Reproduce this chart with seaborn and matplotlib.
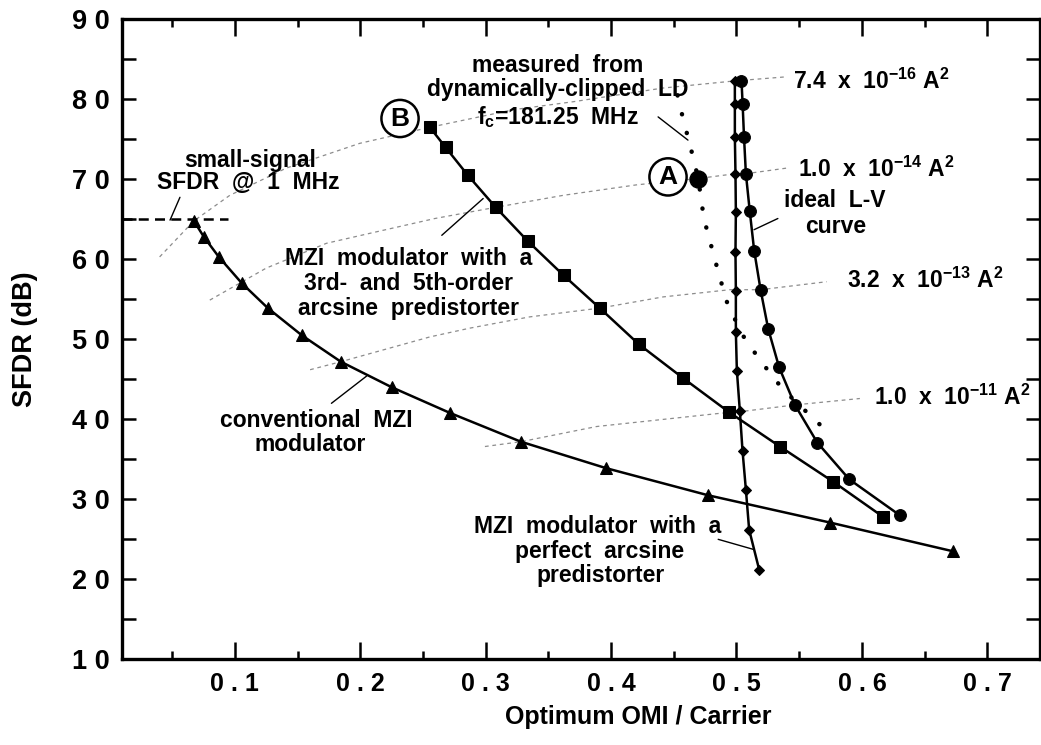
import matplotlib
matplotlib.use("Agg")
import matplotlib.pyplot as plt
import seaborn as sns

# ---------------- data ----------------
conv_x = [0.0673, 0.0753, 0.0872, 0.1056, 0.1263, 0.1534, 0.1845, 0.2252,
          0.2715, 0.3281, 0.3959, 0.4775, 0.5745, 0.6728]
conv_y = [64.8, 62.8, 60.3, 57.0, 53.9, 50.5, 47.2, 44.0, 40.8, 37.2, 33.9,
          30.5, 27.1, 23.5]

p35_x = [0.2555, 0.268, 0.2858, 0.308, 0.3334, 0.3621, 0.391, 0.422, 0.457,
         0.494, 0.5346, 0.5771, 0.617]
p35_y = [76.5, 74.0, 70.5, 66.5, 62.3, 58.0, 53.9, 49.4, 45.2, 40.9, 36.6,
         32.2, 27.8]

perf_x = [0.4987, 0.4987, 0.4987, 0.4992, 0.4995, 0.4992, 0.4995, 0.4995,
          0.5003, 0.5027, 0.5048, 0.5075, 0.5101, 0.5181]
perf_y = [82.3, 79.4, 75.3, 70.7, 65.9, 60.9, 56.0, 50.9, 46.1, 41.0, 36.1,
          31.2, 26.2, 21.2]

ideal_x = [0.504, 0.5049, 0.506, 0.5075, 0.5106, 0.5141, 0.5192, 0.5253,
           0.534, 0.5466, 0.5644, 0.5899, 0.6303]
ideal_y = [82.3, 79.4, 75.3, 70.7, 66.0, 61.1, 56.2, 51.3, 46.5, 41.8, 37.1,
           32.5, 28.0]

meas_x = [0.453, 0.4575, 0.4634, 0.4695, 0.474, 0.480, 0.4862, 0.4929, 0.505,
          0.5187, 0.537, 0.560, 0.5705]
meas_y = [80.5, 77.5, 74.0, 70.1, 65.1, 61.6, 58.0, 54.4, 50.5, 47.4, 43.75,
          40.3, 38.75]
pointA_x = [0.4695]
pointA_y = [70.1]

# constant-noise curves
n1_x = [0.040, 0.0673, 0.096, 0.141, 0.1997, 0.2555, 0.322, 0.37, 0.441, 0.4987, 0.539]
n1_y = [60.3, 64.8, 68.0, 71.4, 74.5, 76.5, 78.7, 79.7, 81.4, 82.3, 82.8]
n2_x = [0.080, 0.125, 0.173, 0.2077, 0.2595, 0.308, 0.362, 0.420, 0.4695, 0.4992, 0.5075, 0.54]
n2_y = [54.9, 58.9, 62.0, 63.25, 65.1, 66.5, 68.0, 69.3, 70.1, 70.7, 70.7, 71.4]
n3_x = [0.160, 0.1845, 0.2555, 0.2875, 0.335, 0.391, 0.4415, 0.4947, 0.5192, 0.572]
n3_y = [46.2, 47.2, 50.3, 51.4, 52.8, 53.9, 55.3, 56.2, 56.2, 57.2]
n4_x = [0.2994, 0.3281, 0.3885, 0.4868, 0.5027, 0.5466, 0.5984]
n4_y = [36.6, 37.2, 39.1, 40.75, 40.95, 41.8, 42.6]
noise_labels = [r"7.4  x  10$^{\mathbf{-16}}$ A$^{\mathbf{2}}$",
                r"1.0  x  10$^{\mathbf{-14}}$ A$^{\mathbf{2}}$",
                r"3.2  x  10$^{\mathbf{-13}}$ A$^{\mathbf{2}}$",
                r"1.0  x  10$^{\mathbf{-11}}$ A$^{\mathbf{2}}$"]
noise_label_x = [0.545, 0.549, 0.588, 0.610]
noise_label_y = [82.3, 71.2, 57.4, 42.7]

small_signal_level = 65.0
small_signal_x = [0.01, 0.0946]

x_major = [0.1, 0.2, 0.3, 0.4, 0.5, 0.6, 0.7]
x_major_labels = ["0 . 1", "0 . 2", "0 . 3", "0 . 4", "0 . 5", "0 . 6", "0 . 7"]
x_minor = [0.05, 0.15, 0.25, 0.35, 0.45, 0.55, 0.65]
y_major = [10, 20, 30, 40, 50, 60, 70, 80, 90]
y_major_labels = ["1 0", "2 0", "3 0", "4 0", "5 0", "6 0", "7 0", "8 0", "9 0"]
y_minor = [15, 25, 35, 45, 55, 65, 75, 85]

# ---------------- style ----------------
sns.set_theme(style="ticks")
plt.rcParams["font.family"] = ["Liberation Sans", "DejaVu Sans"]
plt.rcParams["font.weight"] = "bold"
plt.rcParams["text.color"] = "black"
plt.rcParams["axes.labelcolor"] = "black"
plt.rcParams["xtick.color"] = "black"
plt.rcParams["ytick.color"] = "black"
plt.rcParams["axes.edgecolor"] = "black"
plt.rcParams["mathtext.fontset"] = "custom"
plt.rcParams["mathtext.rm"] = "Liberation Sans:bold"
plt.rcParams["mathtext.bf"] = "Liberation Sans:bold"
plt.rcParams["mathtext.it"] = "Liberation Sans:bold"
plt.rcParams["mathtext.default"] = "bf"

fig = plt.figure(figsize=(10.41, 7.45), dpi=100)
ax = fig.add_axes([0.1172, 0.1150, 0.8818, 0.8591])

gray = "#8c8c8c"
for nx, ny in [(n1_x, n1_y), (n2_x, n2_y), (n3_x, n3_y), (n4_x, n4_y)]:
    sns.lineplot(x=nx, y=ny, ax=ax, color=gray, lw=0.9, sort=False,
                 estimator=None, linestyle=(0, (3, 3)), zorder=1)

lw = 1.8
sns.lineplot(x=conv_x, y=conv_y, ax=ax, color="black", lw=lw, marker="^",
             markersize=9, markeredgecolor="black", sort=False, estimator=None, zorder=3)
sns.lineplot(x=p35_x, y=p35_y, ax=ax, color="black", lw=lw, marker="s",
             markersize=8, markeredgecolor="black", sort=False, estimator=None, zorder=3)
sns.lineplot(x=perf_x, y=perf_y, ax=ax, color="black", lw=lw, marker="D",
             markersize=5.5, markeredgecolor="black", sort=False, estimator=None, zorder=3)
sns.lineplot(x=ideal_x, y=ideal_y, ax=ax, color="black", lw=lw, marker="o",
             markersize=8.5, markeredgecolor="black", sort=False, estimator=None, zorder=3)
ax.plot(meas_x, meas_y, color="black", lw=3.2, linestyle=(0, (0.05, 4.3)),
        dash_capstyle="round", zorder=3)
sns.scatterplot(x=pointA_x, y=pointA_y, ax=ax, color="black", s=150,
                edgecolor="black", zorder=4)

# small-signal dashed line + pointer
ax.plot(small_signal_x, [small_signal_level] * 2, color="black", lw=1.8,
        linestyle=(0, (4, 2.5)), zorder=2)
ax.plot([0.0483, 0.0562], [64.9, 67.75], color="black", lw=1.0)

# ---------------- axes ----------------
ax.set_xlim(0.01, 0.742)
ax.set_ylim(10, 90)
ax.set_xticks(x_major)
ax.set_xticklabels(x_major_labels)
ax.set_xticks(x_minor, minor=True)
ax.set_yticks(y_major)
ax.set_yticklabels(y_major_labels)
ax.set_yticks(y_minor, minor=True)
ax.tick_params(which="both", direction="in", top=True, right=True, width=1.8,
               color="black", labelcolor="black")
ax.tick_params(axis="x", which="major", length=12, labelsize=18, pad=9)
ax.tick_params(axis="x", which="minor", length=6)
ax.tick_params(axis="y", which="both", length=10, labelsize=19.5, pad=9)
for lab in ax.get_xticklabels() + ax.get_yticklabels():
    lab.set_fontweight("bold")
for sp in ax.spines.values():
    sp.set_linewidth(2.4)
    sp.set_color("black")

ax.set_xlabel("Optimum OMI / Carrier", fontsize=18, fontweight="bold", color="black")
ax.xaxis.set_label_coords(0.562, -0.071)
ax.set_ylabel("SFDR (dB)", fontsize=19.5, fontweight="bold", color="black")
ax.yaxis.set_label_coords(-0.106, 0.5)
ax.yaxis.label.set_verticalalignment("center")

# ---------------- annotations ----------------
fs = 16.5
def line_text(x, y, s):
    ax.text(x, y, s, ha="center", va="center", fontsize=fs, fontweight="bold",
            color="black", zorder=5)

line_text(0.3576, 84.2, "measured  from")
line_text(0.3576, 81.2, "dynamically-clipped  LD")
line_text(0.3576, 77.8, r"f$_{\mathbf{c}}$=181.25  MHz")
ax.plot([0.4375, 0.4613], [77.8, 74.9], color="black", lw=1.0)

line_text(0.112, 72.4, "small-signal")
line_text(0.111, 69.6, "SFDR  @  1  MHz")

line_text(0.2388, 60.1, "MZI  modulator  with  a")
line_text(0.2388, 57.0, "3rd-  and  5th-order")
line_text(0.2388, 53.9, "arcsine  predistorter")
ax.plot([0.265, 0.298], [63.0, 67.6], color="black", lw=1.0)

line_text(0.1646, 39.9, "conventional  MZI")
line_text(0.160, 36.8, "modulator")
ax.plot([0.177, 0.205], [42.0, 45.4], color="black", lw=1.0)

line_text(0.389, 26.6, "MZI  modulator  with  a")
line_text(0.391, 23.45, "perfect  arcsine")
line_text(0.392, 20.5, "predistorter")
ax.plot([0.4854, 0.5133], [25.0, 23.75], color="black", lw=1.0)

line_text(0.578, 67.4, "ideal  L-V")
line_text(0.579, 64.1, "curve")
ax.plot([0.533, 0.514], [65.1, 63.7], color="black", lw=1.0)

for s, x, y in zip(noise_labels, noise_label_x, noise_label_y):
    ax.text(x, y, s, ha="left", va="center", fontsize=fs, fontweight="bold",
            color="black", zorder=5)

circ = dict(boxstyle="circle,pad=0.25", fc="white", ec="black", lw=1.8)
ax.text(0.4454, 70.3, "A", ha="center", va="center", fontsize=19,
        fontweight="bold", color="black", bbox=circ, zorder=5)
ax.text(0.2317, 77.6, "B", ha="center", va="center", fontsize=19,
        fontweight="bold", color="black", bbox=circ, zorder=5)

fig.savefig("out.png", dpi=100)
